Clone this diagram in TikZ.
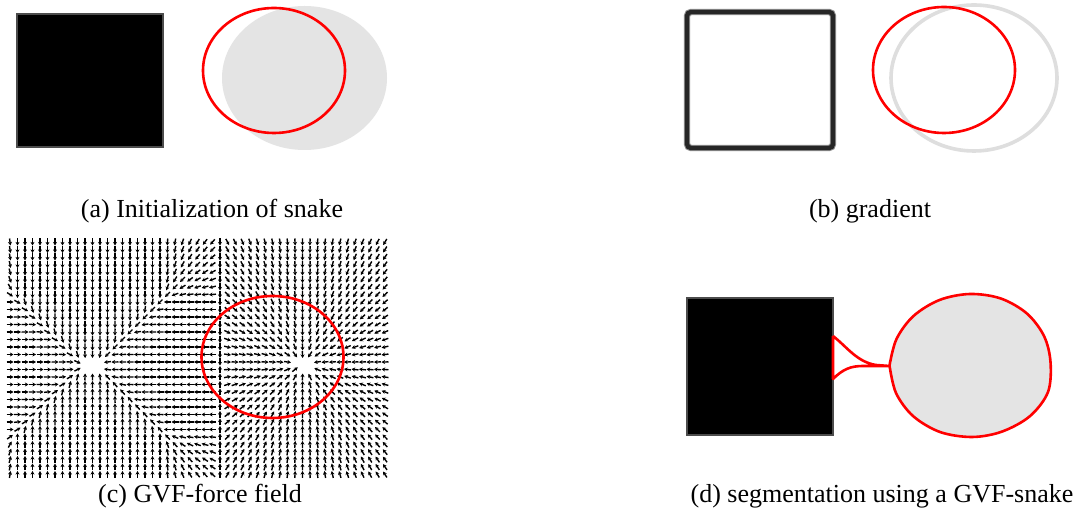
\documentclass[tikz,border=0pt]{standalone}
\usepackage{fontspec}
\setmainfont{Liberation Serif}
\usetikzlibrary{arrows.meta}
\definecolor{lgray}{HTML}{E4E4E4}
\definecolor{rgray}{HTML}{DEDEDE}
\tikzset{
  snake/.style={draw=red, line width=1.3pt},
  captext/.style={font=\fontsize{13}{15}\selectfont, inner sep=0pt, anchor=base},
  farrow/.style={line width=0.7pt, -{Stealth[length=1.8pt,width=2pt]}},
  blurbox/.style={fill=black, draw=black!70, line width=0.8pt},
}
\newif\ifgvkeep
\newcommand\gvfarrow[2]{%
  \pgfmathsetmacro\gvx{#1}%
  \pgfmathsetmacro\gvy{#2}%
  \gvkeeptrue
  \ifdim\gvx pt<216pt
    \pgfmathsetmacro\gvqx{min(max(\gvx,17),163)}%
    \pgfmathsetmacro\gvqy{min(max(\gvy,299),432)}%
    \pgfmathsetmacro\gvvx{\gvqx-\gvx}%
    \pgfmathsetmacro\gvvy{\gvqy-\gvy}%
    \pgfmathsetmacro\gvout{abs(\gvvx)+abs(\gvvy)}%
    \ifdim\gvout pt<0.01pt
      \pgfmathsetmacro\gvdT{\gvy-299}%
      \pgfmathsetmacro\gvdB{432-\gvy}%
      \pgfmathsetmacro\gvdL{\gvx-17}%
      \pgfmathsetmacro\gvdR{163-\gvx}%
      \pgfmathsetmacro\gvm{min(\gvdT,\gvdB,\gvdL,\gvdR)}%
      \pgfmathsetmacro\gvvx{exp(-min((\gvdL-\gvm)/4,8))-exp(-min((\gvdR-\gvm)/4,8))}%
      \pgfmathsetmacro\gvvy{exp(-min((\gvdT-\gvm)/4,8))-exp(-min((\gvdB-\gvm)/4,8))}%
      \ifdim\gvm pt>61pt \gvkeepfalse\fi
    \fi
  \else
    \ifdim\gvx pt<222pt
      \pgfmathsetmacro\gvvx{0}%
      \pgfmathsetmacro\gvvy{365-\gvy}%
    \else
      \pgfmathsetmacro\gvvx{-(\gvx-303)/82}%
      \pgfmathsetmacro\gvvy{-(\gvy-364)/72}%
      \pgfmathsetmacro\gvr{veclen(\gvx-303,\gvy-364)}%
      \ifdim\gvr pt<9pt \gvkeepfalse\fi
    \fi
  \fi
  \pgfmathsetmacro\gvlen{veclen(\gvvx,\gvvy)}%
  \ifdim\gvlen pt<0.02pt \gvkeepfalse\fi
  \ifgvkeep
    \pgfmathsetmacro\gvux{3.5*\gvvx/\gvlen}%
    \pgfmathsetmacro\gvuy{3.5*\gvvy/\gvlen}%
    \draw[farrow] (\gvx-\gvux,\gvy-\gvuy) -- (\gvx+\gvux,\gvy+\gvuy);
  \fi
}
\begin{document}
\begin{tikzpicture}[x=0.5pt,y=-0.5pt]
\useasboundingbox (0,0) rectangle (1082,512);
\fill[white] (0,0) rectangle (1082,512);

% ---------- (a) ----------
\draw[blurbox] (17,14) rectangle (163,147);
\fill[lgray] (304.5,78) ellipse [x radius=82.5, y radius=72];
\draw[snake] (274,70.5) ellipse [x radius=71, y radius=62.5];
\node[captext] (capa) at (212,218) {(a) Initialization of snake};

% ---------- (b) ----------
\draw[black!45, line width=3.2pt, rounded corners=2pt] (687,12) rectangle (833,148);
\draw[black!85, line width=2.2pt, rounded corners=2pt] (687,12) rectangle (833,148);
\draw[rgray, line width=1.8pt] (974,78) ellipse [x radius=83, y radius=73];
\draw[snake] (944,70) ellipse [x radius=71, y radius=63];
\node[captext] (capb) at (870,218) {(b) gradient};

% ---------- (c) ----------
\foreach \i in {0,...,50}{
  \foreach \j in {0,...,31}{
    \gvfarrow{10+7.5*\i}{242+7.5*\j}
  }
}
\draw[snake] (272.5,357) ellipse [x radius=71, y radius=61];
\node[captext] (capc) at (200,503) {(c) GVF-force field};

% ---------- (d) ----------
\draw[blurbox] (687,298) rectangle (833,435);
\draw[snake, fill=lgray] (889.5,365.5) plot[smooth, tension=0.55] coordinates {
  (889.5,365.5) (896.5,339) (913.5,316) (939.5,300) (970,294) (1000.8,298.5)
  (1026.9,313.5) (1044,336) (1050.5,362) (1048,392) (1030,416.1) (1002,431.6)
  (972,437) (940,432) (913.1,416.1) (896,393) (889.5,365.5)} -- cycle;
\draw[snake, line join=round] (833,336) -- (833,379)
  .. controls (843,369) and (851,366) .. (863,366) -- (889.5,366)
  (833,336) .. controls (847,347) and (857,362) .. (876,365) -- (889.5,366);
\node[captext] (capd) at (882,503) {(d) segmentation using a GVF-snake};
\end{tikzpicture}
\end{document}
